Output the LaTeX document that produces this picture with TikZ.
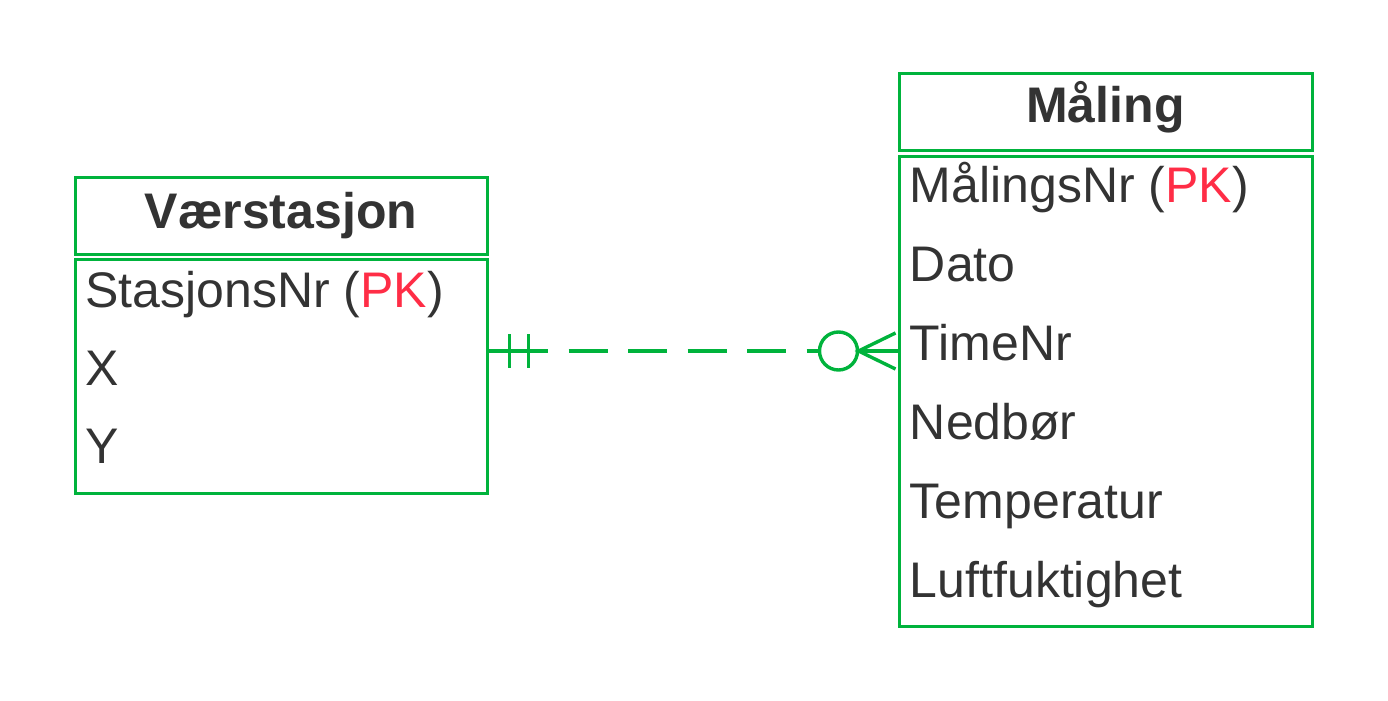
\documentclass[tikz,border=0pt]{standalone}
\usepackage{fontspec}
\setmainfont{Liberation Sans}
\usepackage{xcolor}
\usetikzlibrary{calc}
\definecolor{erline}{HTML}{00B33C}
\definecolor{pkred}{HTML}{FF2D46}
\definecolor{txtgray}{HTML}{333333}
\newcommand{\pkmark}{\textcolor{pkred}{PK}}
\tikzset{
  enthead/.style={
    draw=erline, line width=1.5pt, rectangle,
    inner sep=0pt, fill=white
  },
  entbody/.style={
    draw=erline, line width=1.5pt, rectangle,
    inner sep=0pt, fill=white
  },
  enttitle/.style={
    font=\bfseries\fontsize{25}{30}\selectfont, text=txtgray,
    inner sep=0pt, anchor=base
  },
  attr/.style={
    font=\fontsize{25}{30}\selectfont, text=txtgray,
    inner sep=0pt, anchor=base west
  },
  relwire/.style={
    draw=erline, line width=1.7pt,
    dash pattern=on 19.5pt off 10.25pt, dash phase=19.5pt
  },
  relmark/.style={
    draw=erline, line width=1.7pt
  },
}

\begin{document}
\begin{tikzpicture}[x=0.5pt, y=-0.5pt]
\useasboundingbox (0,0) rectangle (1388,701);

% Vaerstasjon entity
\node[enthead, minimum width=206pt, minimum height=38pt] (vs_head) at (281, 216) {};
\node[entbody, minimum width=206pt, minimum height=117pt] (vs_body) at (281, 376) {};
\node[enttitle] (vs_title) at (281, 228) {Værstasjon};
\foreach \t [count=\i] in {{StasjonsNr (\pkmark)}, X, Y} {
  \node[attr] (vs\i) at (85, {307+78*(\i-1)}) {\t};
}

% Maaling entity
\node[enthead, minimum width=206.5pt, minimum height=38.5pt] (ml_head) at (1105.5, 112.5) {};
\node[entbody, minimum width=206.5pt, minimum height=234.75pt] (ml_body) at (1105.5, 391.25) {};
\node[enttitle] (ml_title) at (1105.5, 123) {Måling};
\foreach \t [count=\i] in {{MålingsNr (\pkmark)}, Dato, TimeNr, Nedbør, Temperatur, Luftfuktighet} {
  \node[attr] (ml\i) at (909.5, {203+78.8*(\i-1)}) {\t};
}

% Relation: exactly one -> zero or many
\coordinate (relrow) at (0, 351);
\coordinate (relA) at (vs_body.east |- relrow);
\coordinate (relB) at (ml_body.west |- relrow);
\draw[relwire] (relA) -- (relB);

% one-and-only-one end
\draw[relmark] (relA) -- ($(relA)+(21,0)$);
\draw[relmark] ($(relA)+(21,-17)$) -- ($(relA)+(21,17)$);
\draw[relmark] ($(relA)+(40,-17)$) -- ($(relA)+(40,17)$);

% zero-or-many end
\draw[relmark, fill=white] ($(relB)+(-59,0)$) circle[radius=9.5pt];
\draw[relmark] ($(relB)+(-39,0)$) -- (relB);
\draw[relmark] ($(relB)+(-2,-18)$) -- ($(relB)+(-39,0)$) -- ($(relB)+(-2,18)$);

\end{tikzpicture}
\end{document}
